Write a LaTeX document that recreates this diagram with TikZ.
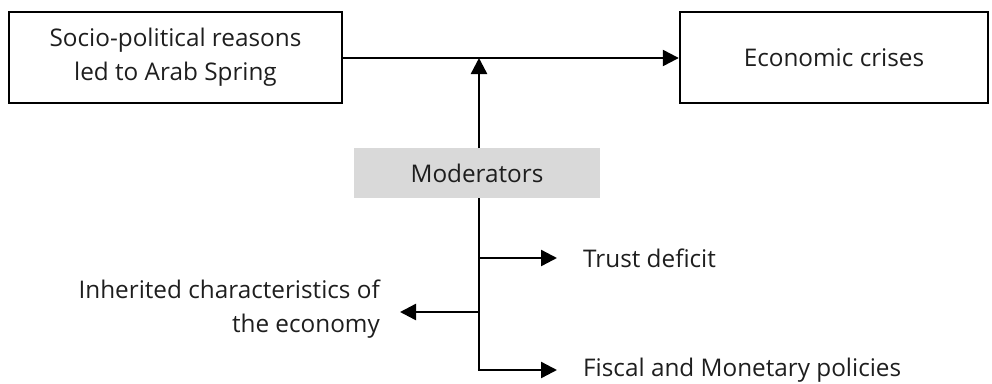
\documentclass[tikz,border=0pt]{standalone}
\usepackage{fontspec}
\setmainfont{Open Sans}
\usetikzlibrary{arrows.meta}
\definecolor{modgray}{RGB}{217,217,217}
\definecolor{txt}{RGB}{30,30,30}
\tikzset{
  box/.style={draw=black, line width=2.4pt, minimum width=333pt, minimum height=91pt, align=center, font=\fontsize{24.3}{34}\selectfont, text=txt, inner sep=0pt},
  modbox/.style={fill=modgray, minimum width=246pt, minimum height=50pt, font=\fontsize{24.3}{34}\selectfont, text=txt, inner sep=0pt},
  lbl/.style={font=\fontsize{24.3}{34}\selectfont, text=txt, inner ysep=0pt},
  conn/.style={line width=2.4pt, -{Triangle[length=16pt,width=16pt]}},
  plain/.style={line width=2.4pt}
}
\begin{document}
\begin{tikzpicture}[x=1pt,y=-1pt]
\useasboundingbox (0,0) rectangle (992,383);
\node[box] (a) at (175.5,57.5) {Socio-political reasons\\led to Arab Spring};
\node[box, minimum width=308pt] (b) at (834,57.5) {Economic crises};
\node[modbox] (mod) at (477,173) {Moderators};
\coordinate (j) at (479,58);
\coordinate (mtop) at (479,148);
\coordinate (mbot) at (479,198);
\coordinate (vend) at (479,370);
\coordinate (t1) at (479,258);
\coordinate (t2) at (479,312);
\node[lbl, anchor=west, inner xsep=26pt] (trust) at (557,258) {Trust deficit};
\node[lbl, anchor=west, inner xsep=26pt] (fisc) at (557,370) {Fiscal and Monetary policies};
\node[lbl, anchor=east, inner xsep=20pt, align=right] (inh) at (400,309) {Inherited characteristics of\\the economy};
\draw[conn] (a.east |- j) -- (b.west |- j);
\draw[conn] (mtop) -- (j);
\draw[plain] (mbot) -- (vend);
\draw[conn] (t1) -- (trust.west);
\draw[conn] (t2) -- (inh.east |- t2);
\draw[conn] ([xshift=-1.2pt]vend) -- (fisc.west);
\end{tikzpicture}
\end{document}
